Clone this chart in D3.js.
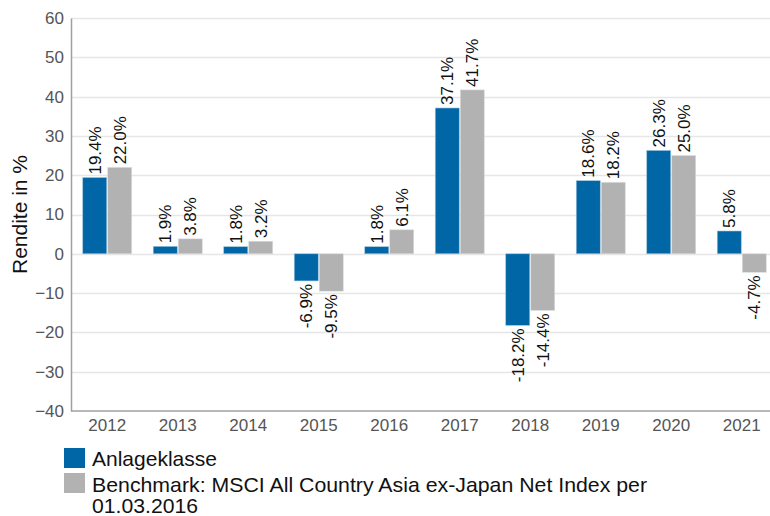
<!DOCTYPE html>
<html>
<head>
<meta charset="utf-8">
<script src="https://cdn.jsdelivr.net/npm/d3@7"></script>
<style>
  body { margin: 0; background: #fff; }
  svg { font-family: "Liberation Sans", Arial, sans-serif; }
</style>
</head>
<body>
<div id="chart"></div>
<script>
// Rendite pro Jahr: Anlageklasse vs. Benchmark
const years = ["2012", "2013", "2014", "2015", "2016", "2017", "2018", "2019", "2020", "2021"];
const anlage = [19.4, 1.9, 1.8, -6.9, 1.8, 37.1, -18.2, 18.6, 26.3, 5.8];
const bench = [22.0, 3.8, 3.2, -9.5, 6.1, 41.7, -14.4, 18.2, 25.0, -4.7];
const seriesNames = ["Anlageklasse", "Benchmark: MSCI All Country Asia ex-Japan Net Index per", "01.03.2016"];
const yTicks = [-40, -30, -20, -10, 0, 10, 20, 30, 40, 50, 60];

const width = 770, height = 516,
      margin = ({ top: 18, right: -7, bottom: 105, left: 71 });

const colors = ["#0066a6", "#b2b2b2"];

const svg = d3.select("#chart")
    .append("svg")
    .attr("width", width)
    .attr("height", height);

const x = d3.scaleBand()
    .domain(years)
    .range([margin.left + 1, width - margin.right]);

const y = d3.scaleLinear()
    .domain([-40, 60])
    .range([height - margin.bottom, margin.top]);

const barW = 24;

// grid
svg.append("g")
    .selectAll("line")
    .data(yTicks.filter(d => d > -40))
    .join("line")
    .attr("x1", margin.left)
    .attr("x2", width)
    .attr("y1", d => Math.round(y(d)) + 0.5)
    .attr("y2", d => Math.round(y(d)) + 0.5)
    .attr("stroke", "#e6e6e6")
    .attr("stroke-width", 1.5);

// y axis
const yAxis = svg.append("g")
    .attr("transform", `translate(${margin.left},0)`)
    .call(d3.axisLeft(y).tickValues(yTicks).tickSize(0).tickPadding(7));
yAxis.select(".domain").attr("stroke", "#a0a0a0").attr("stroke-width", 1.5);
yAxis.selectAll("text").attr("font-size", 17).attr("fill", "#555").attr("font-family", "Liberation Sans");

// x axis
const xAxis = svg.append("g")
    .attr("transform", `translate(0,${y(-40)})`)
    .call(d3.axisBottom(x).tickSize(0).tickPadding(8));
xAxis.select(".domain").attr("d", `M${margin.left},0H${width}`).attr("stroke", "#a0a0a0").attr("stroke-width", 1.5);
xAxis.selectAll("text").attr("font-size", 17).attr("fill", "#555").attr("font-family", "Liberation Sans");

// y label
svg.append("text")
    .attr("transform", `translate(27,${(y(60) + y(-40)) / 2}) rotate(-90)`)
    .attr("text-anchor", "middle")
    .attr("font-size", 21)
    .attr("fill", "#111")
    .text("Rendite in %");

const data = years.map((yr, i) => ({ yr, vals: [anlage[i], bench[i]] }));

const groups = svg.append("g")
    .selectAll("g")
    .data(data)
    .join("g");

[0, 1].forEach(s => {
    const bx = d => x(d.yr) + x.bandwidth() / 2 - barW - 0.5 + s * (barW + 1);
    groups.append("rect")
        .attr("x", bx)
        .attr("width", barW)
        .attr("y", d => y(Math.max(0, d.vals[s])))
        .attr("height", d => Math.abs(y(d.vals[s]) - y(0)))
        .attr("fill", colors[s])
        .attr("stroke", s === 0 ? "#9cc3dd" : "#dcdcdc")
        .attr("stroke-width", 0.6);

    groups.append("text")
        .attr("transform", d => {
            const v = d.vals[s];
            const ty = v >= 0 ? y(v) - 3 : y(v) + 3;
            return `translate(${bx(d) + barW / 2 + 6},${ty}) rotate(-90)`;
        })
        .attr("text-anchor", d => d.vals[s] >= 0 ? "start" : "end")
        .attr("font-size", 17)
        .attr("fill", "#111")
        .text(d => d.vals[s].toFixed(1) + "%");
});

// legend
const legend = svg.append("g")
    .attr("font-size", 21)
    .attr("fill", "#111");

legend.append("rect").attr("x", 64).attr("y", 448).attr("width", 21).attr("height", 20).attr("fill", colors[0]);
legend.append("rect").attr("x", 64).attr("y", 473).attr("width", 21).attr("height", 20).attr("fill", colors[1]);

const legendLines = [
    { text: seriesNames[0], y: 466, w: 125 },
    { text: seriesNames[1], y: 492, w: 555 },
    { text: seriesNames[2], y: 513, w: 106 }
];
legend.selectAll("text.lg")
    .data(legendLines)
    .join("text")
    .attr("class", "lg")
    .attr("x", 92)
    .attr("y", d => d.y)
    .attr("textLength", d => d.w)
    .attr("lengthAdjust", "spacingAndGlyphs")
    .text(d => d.text);
</script>
</body>
</html>
